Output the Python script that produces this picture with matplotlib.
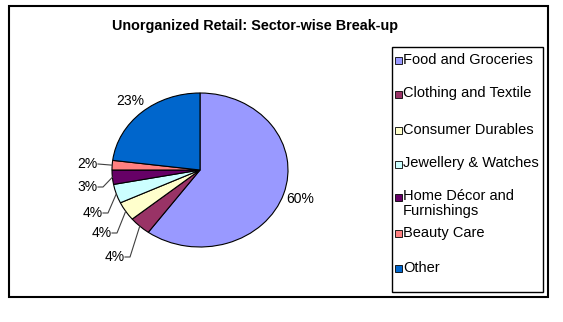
import matplotlib
matplotlib.use("Agg")
import matplotlib.pyplot as plt
import numpy as np
from matplotlib.patches import Rectangle

# ---- data ----
categories = ["Food and Groceries", "Clothing and Textile", "Consumer Durables",
              "Jewellery & Watches", "Home Décor and\nFurnishings", "Beauty Care", "Other"]
values = [60, 4, 4, 4, 3, 2, 23]
colors = ["#9999FF", "#993366", "#FFFFCC", "#CCFFFF", "#660066", "#FF8080", "#0066CC"]
title = "Unorganized Retail: Sector-wise Break-up"

plt.rcParams['font.family'] = ['Liberation Sans', 'DejaVu Sans']

W, H = 563, 322
fig = plt.figure(figsize=(W / 100, H / 100), dpi=100)
fig.patch.set_facecolor("white")

def fx(px):
    return px / W

def fy(py):
    return 1 - py / H

# outer border
fig.patches.append(Rectangle((fx(9), fy(297)), fx(548) - fx(9), fy(6) - fy(297),
                             transform=fig.transFigure, fill=False, lw=1.5,
                             edgecolor="black"))

# title
fig.text(fx(255), fy(26), title, ha="center", va="center", fontsize=10.4,
         fontweight="bold")

# pie axes (elliptical pie)
pl, pr, pt, pb = 112, 288, 93, 247
ax = fig.add_axes([fx(pl), fy(pb), fx(pr) - fx(pl), fy(pt) - fy(pb)])
wedges, _ = ax.pie(values, colors=colors, startangle=90, counterclock=False,
                   radius=1, wedgeprops=dict(edgecolor="black", linewidth=0.8))
ax.set_aspect("auto")
ax.set_xlim(-1, 1)
ax.set_ylim(-1, 1)
ax.axis("off")

cx, cy, rx, ry = (pl + pr) / 2, (pt + pb) / 2, (pr - pl) / 2, (pb - pt) / 2

def to_ax(px, py):
    return (px - cx) / rx, (cy - py) / ry

# small-slice label layout (text right edge x, text center y, elbow x) in pixels
small_layout = {5: (98, 164, 98), 4: (98, 187, 103), 3: (103, 213, 108),
                2: (112, 233, 117), 1: (125, 257, 130)}

fs = 10
for i, (w, v) in enumerate(zip(wedges, values)):
    mid = np.deg2rad((w.theta1 + w.theta2) / 2)
    ex, ey = np.cos(mid), np.sin(mid)
    label = f"{v}%"
    if i in small_layout:
        tx, ty, elx = small_layout[i]
        ax.text(*to_ax(tx, ty), label, ha="right", va="center", fontsize=fs)
        x0, y0 = to_ax(tx, ty)
        x1, y1 = to_ax(elx, ty)
        ax.plot([x0, x1, ex], [y0, y1, ey], color="#404040", lw=0.8,
                clip_on=False)
    else:
        ax.text(1.2 * ex, 1.2 * ey, label, ha="center", va="center", fontsize=fs)

# legend box
fig.patches.append(Rectangle((fx(392), fy(292)), fx(543) - fx(392), fy(47) - fy(292),
                             transform=fig.transFigure, fill=False, lw=1,
                             edgecolor="black"))
legend_y = [60, 94, 130, 164, 197, 233, 268]
lfs = 10.5
for c, lab, yy in zip(colors, categories, legend_y):
    fig.patches.append(Rectangle((fx(395), fy(yy + 3.5)), fx(6.5), fy(0) - fy(6.5),
                                 transform=fig.transFigure, facecolor=c,
                                 edgecolor="black", lw=0.6))
    fig.text(fx(403), fy(yy - 7.5), lab, ha="left", va="top", fontsize=lfs,
             linespacing=1.0)

fig.savefig("out.png", dpi=100, facecolor="white")
